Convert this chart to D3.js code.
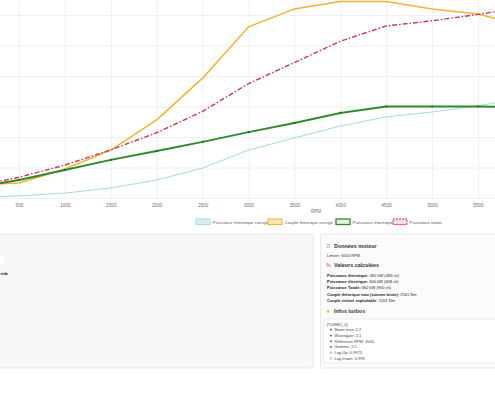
<!DOCTYPE html>
<html>
<head>
<meta charset="utf-8">
<script src="https://cdn.jsdelivr.net/npm/d3@7"></script>
<style>
  html, body { margin: 0; padding: 0; background: #ffffff; overflow: hidden; }
  svg { display: block; font-family: "Liberation Sans", Arial, sans-serif; }
</style>
</head>
<body>
<svg id="chart" width="495" height="400"></svg>
<script>
// ---- data ----
const rpm = [0, 500, 1000, 1500, 2000, 2500, 3000, 3500, 4000, 4500, 5000, 5500, 6000];
const puissanceThermique = [2, 7, 16, 33, 59, 98, 157, 197, 236, 266, 282, 302, 328];
const coupleTheorique   = [44, 49, 95, 157, 256, 393, 561, 620, 644, 644, 620, 603, 564];
const puissanceElectrique = [34, 59, 92, 125, 154, 184, 216, 246, 279, 300, 300, 300, 298];
const puissanceTotale   = [36, 68, 108, 158, 214, 284, 375, 444, 514, 564, 581, 602, 625];
const xTicks = [500, 1000, 1500, 2000, 2500, 3000, 3500, 4000, 4500, 5000, 5500];
const yTicks = [0, 100, 200, 300, 400, 500, 600, 700];
const legendLabels = ["Puissance thermique corrigée", "Couple théorique corrigé", "Puissance électrique", "Puissance totale"];
const infoMoteur = ["Limiter: 6000 RPM"];
const valeursCalc = [
  ["Puissance thermique:", " 362 kW (483 ch)"],
  ["Puissance électrique:", " 300 kW (408 ch)"],
  ["Puissance Totale:", " 662 kW (900 ch)"],
  ["Couple théorique max (somme brute):", " 2561 Nm"],
  ["Couple estimé exploitable:", " 1201 Nm"]
];
const turboTitle = "[TURBO_0]";
const turboItems = ["Boost max: 2.2", "Wastegate: 2.1", "Référence RPM: 3000", "Gamma: 1.5"];
const turboLag = ["Lag Up: 0.9975", "Lag Down: 0.999"];

// ---- chart ----
const svg = d3.select("#chart");
svg.append("rect").attr("width", 495).attr("height", 400).attr("fill", "#ffffff");

const x = d3.scaleLinear().domain([500, 5500]).range([19, 478]);
const y = d3.scaleLinear().domain([0, 100]).range([198, 167.5]);

// grid via axes
const gx = svg.append("g").attr("transform", "translate(0,198)")
  .call(d3.axisBottom(x).tickValues(xTicks).tickSize(-230).tickPadding(5.5).tickFormat(d3.format("d")));
gx.select(".domain").remove();
gx.selectAll("line").attr("stroke", "#ececec").attr("stroke-width", 0.8);
gx.selectAll("text").attr("fill", "#707070").attr("font-size", 4.7);

const gy = svg.append("g").attr("transform", "translate(-30,0)")
  .call(d3.axisLeft(y).tickValues(yTicks).tickSize(-600).tickFormat(""));
gy.select(".domain").remove();
gy.selectAll("line").attr("stroke", "#ececec").attr("stroke-width", 0.8);

svg.append("text").attr("x", 316).attr("y", 212.5).attr("text-anchor", "middle")
  .attr("font-size", 4.6).attr("fill", "#707070").text("RPM");

const line = d3.line().x((d, i) => x(rpm[i])).y(d => y(d));

const series = [
  {vals: puissanceThermique, color: "#a9d9de", w: 1, dash: null, fill: "#d6eef0"},
  {vals: coupleTheorique, color: "#f2b233", w: 1.5, dash: null, fill: "#fde6b0"},
  {vals: puissanceElectrique, color: "#2f8a2f", w: 2, dash: null, fill: "#e3f2e3"},
  {vals: puissanceTotale, color: "#d2334f", w: 1.4, dash: "5,2,1.5,2", fill: "#f9dde2"}
];

series.forEach(s => {
  svg.append("path").datum(s.vals).attr("d", line)
    .attr("fill", "none").attr("stroke", s.color).attr("stroke-width", s.w)
    .attr("stroke-linejoin", "round")
    .attr("stroke-dasharray", s.dash);
});

// green point markers
svg.append("g").selectAll("circle").data(puissanceElectrique).join("circle")
  .attr("cx", (d, i) => x(rpm[i])).attr("cy", d => y(d)).attr("r", 1.1)
  .attr("fill", "#236b23");

// legend
const legendX = [196, 268, 336, 393];
const lg = svg.append("g");
series.forEach((s, i) => {
  lg.append("rect").attr("x", legendX[i]).attr("y", 219).attr("width", 14).attr("height", 5.5)
    .attr("fill", s.fill).attr("stroke", s.color).attr("stroke-width", i === 2 ? 1.3 : 1)
    .attr("stroke-dasharray", s.dash ? "2,1" : null);
  lg.append("text").attr("x", legendX[i] + 16.5).attr("y", 223.6)
    .attr("font-size", 4.4).attr("fill", "#5a5a5a").text(legendLabels[i]);
});

// ---- panels ----
const left = svg.append("g");
left.append("rect").attr("x", -10).attr("y", 234).attr("width", 323.5).attr("height", 134)
  .attr("rx", 2).attr("fill", "#f7f7f7").attr("stroke", "#e4e4e4").attr("stroke-width", 0.8);
left.append("rect").attr("x", -4).attr("y", 255).attr("width", 8).attr("height", 9)
  .attr("fill", "#ffffff");
left.append("text").attr("x", 0.5).attr("y", 275)
  .attr("font-size", 3.8).attr("font-weight", "bold").attr("fill", "#222").text("vide");

const right = svg.append("g");
right.append("rect").attr("x", 320.5).attr("y", 234).attr("width", 185).attr("height", 134)
  .attr("rx", 2).attr("fill", "#fbfbfb").attr("stroke", "#e2e2e2").attr("stroke-width", 0.8);

right.append("text").attr("x", 326).attr("y", 248).attr("font-size", 5.2).attr("fill", "#888").text("☑");
right.append("text").attr("x", 334).attr("y", 248).attr("font-size", 5.4).attr("font-weight", "bold")
  .attr("fill", "#333").text("Données moteur");
right.append("text").attr("x", 327).attr("y", 257).attr("font-size", 4).attr("fill", "#333").text(infoMoteur[0]);

right.append("text").attr("x", 326).attr("y", 267).attr("font-size", 5.2).attr("fill", "#d04a78").text("%");
right.append("text").attr("x", 334).attr("y", 267).attr("font-size", 5.4).attr("font-weight", "bold")
  .attr("fill", "#333").text("Valeurs calculées");

const valY = [276.5, 282.8, 289, 295.8, 302];
valeursCalc.forEach((v, i) => {
  const t = right.append("text").attr("x", 327).attr("y", valY[i]).attr("font-size", 4).attr("fill", "#222");
  t.append("tspan").attr("font-weight", "bold").text(v[0]);
  t.append("tspan").text(v[1]);
});

right.append("text").attr("x", 326).attr("y", 313).attr("font-size", 5).attr("fill", "#e8b820").text("★");
right.append("text").attr("x", 334).attr("y", 313).attr("font-size", 5.4).attr("font-weight", "bold")
  .attr("fill", "#333").text("Infos turbos");

right.append("rect").attr("x", 323.5).attr("y", 319).attr("width", 180).attr("height", 44)
  .attr("rx", 1.5).attr("fill", "#ffffff").attr("stroke", "#e4e4e4").attr("stroke-width", 0.7);
right.append("text").attr("x", 327).attr("y", 325.5).attr("font-size", 4).attr("fill", "#444").text(turboTitle);
const itemY = [331, 336.8, 342.5, 348.2];
turboItems.forEach((t, i) => {
  right.append("circle").attr("cx", 331).attr("cy", itemY[i] - 1.3).attr("r", 0.9).attr("fill", "#555");
  right.append("text").attr("x", 334.5).attr("y", itemY[i]).attr("font-size", 4).attr("fill", "#444").text(t);
});
const lagY = [354, 359.7];
turboLag.forEach((t, i) => {
  right.append("circle").attr("cx", 331).attr("cy", lagY[i] - 1.3).attr("r", 0.9)
    .attr("fill", "none").attr("stroke", "#777").attr("stroke-width", 0.4);
  right.append("text").attr("x", 334.5).attr("y", lagY[i]).attr("font-size", 4).attr("fill", "#444").text(t);
});
</script>
</body>
</html>
